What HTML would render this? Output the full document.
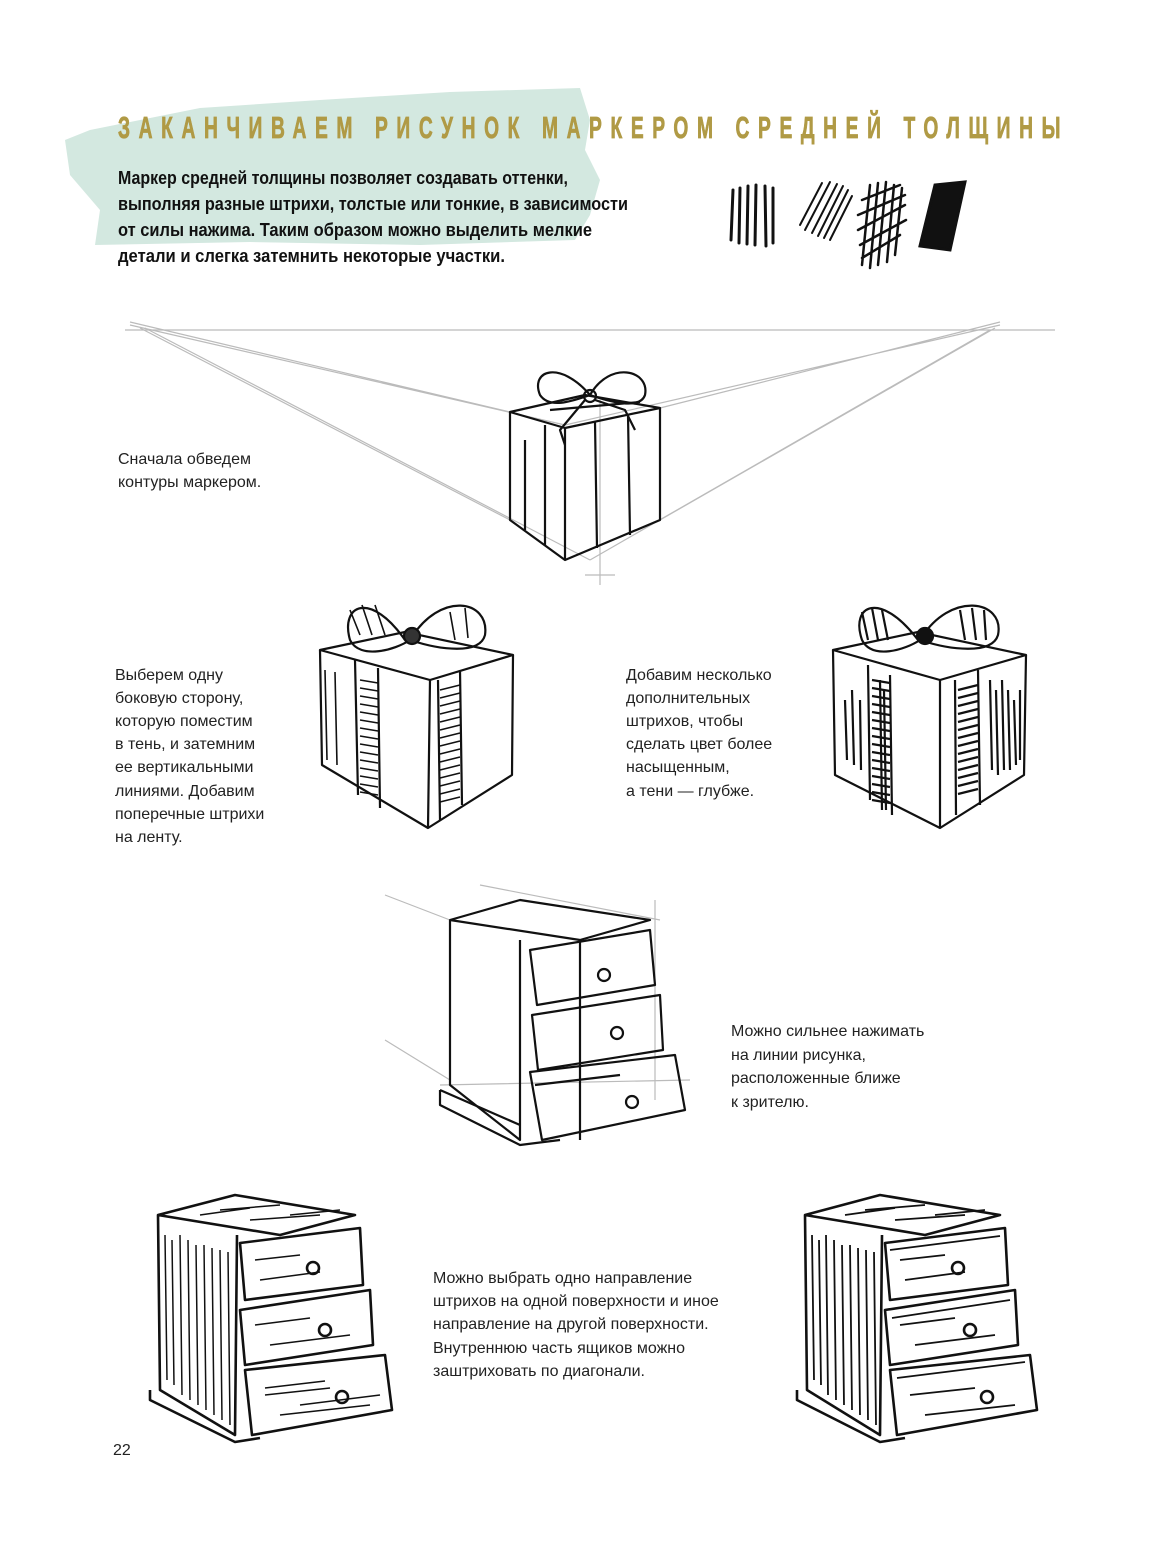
<!DOCTYPE html>
<html><head><meta charset="utf-8"><style>
html,body{margin:0;padding:0;background:#fff}
svg{display:block}
</style></head><body>
<svg width="1154" height="1550" viewBox="0 0 1154 1550" xmlns="http://www.w3.org/2000/svg" font-family="Liberation Sans, sans-serif">
<path d="M90 130 L200 108 L320 100 L450 92 L580 88 L590 120 L585 150 L600 180 L590 215 L575 240 L420 245 L250 242 L95 245 L100 210 L70 175 L65 140 Z" fill="#d3e8e0"/>
<text transform="translate(118,138) scale(0.62,1)" font-size="31" font-weight="bold" fill="#b09a45" stroke="#b09a45" stroke-width="0.8" textLength="1520" lengthAdjust="spacing">ЗАКАНЧИВАЕМ РИСУНОК МАРКЕРОМ СРЕДНЕЙ ТОЛЩИНЫ</text>
<g font-size="18" font-weight="bold" fill="#111">
<text x="118" y="184" textLength="450" lengthAdjust="spacingAndGlyphs">Маркер средней толщины позволяет создавать оттенки,</text>
<text x="118" y="210" textLength="510" lengthAdjust="spacingAndGlyphs">выполняя разные штрихи, толстые или тонкие, в зависимости</text>
<text x="118" y="236" textLength="474" lengthAdjust="spacingAndGlyphs">от силы нажима. Таким образом можно выделить мелкие</text>
<text x="118" y="262" textLength="387" lengthAdjust="spacingAndGlyphs">детали и слегка затемнить некоторые участки.</text>
</g>
<g stroke="#111" stroke-linecap="round">
<path d="M733 190 L731 240 M740 188 L739 243 M748 186 L747 244 M756 185 L755 245 M765 186 L766 246 M773 188 L773 243" stroke-width="3"/>
<path d="M800 225 L822 183 M805 230 L830 182 M812 233 L837 184 M818 236 L843 186 M824 238 L848 190 M830 240 L852 196" stroke-width="2"/>
<path d="M862 200 L900 185 M858 215 L905 195 M858 230 L905 205 M860 245 L906 220 M862 258 L900 235 M870 185 L862 265 M878 183 L870 268 M886 182 L878 265 M894 185 L887 262 M902 188 L895 255" stroke-width="2.5"/>
<path d="M935 185 L965 182 L950 250 L920 246 Z" fill="#111" stroke-width="3"/>
</g>
<g stroke="#bbb" stroke-width="1.2" fill="none">
<path d="M125 330 L1055 330"/>
<path d="M130 322 L510 412 M130 325 L565 425 M140 328 L510 520 M145 328 L590 560"/>
<path d="M1000 322 L660 408 M1000 325 L565 425 M995 328 L660 520 M990 330 L590 560"/>
<path d="M600 400 L600 585 M585 575 L615 575"/>
<path d="M385 895 L450 920 M480 885 L660 920 M655 900 L655 1100 M440 1085 L690 1080 M385 1040 L450 1080"/>
</g>
<g stroke="#111" stroke-width="2.2" fill="none" stroke-linejoin="round">
<path d="M510 412 L585 395 L660 408 L565 428 Z"/>
<path d="M510 412 L510 520 L565 560 L660 520 L660 408 M565 428 L565 560"/>
<path d="M525 440 L525 530 M545 425 L545 545 M595 422 L597 548 M628 415 L630 535 M550 410 L640 402"/>
<path d="M590 395 C560 360 530 370 540 395 C550 410 575 400 590 395 C610 360 650 370 645 395 C640 410 610 402 590 395 Z"/>
<circle cx="590" cy="396" r="6"/>
<path d="M585 400 L560 430 L565 445 M595 400 L625 410 L635 430"/>
</g>
<g stroke="#111" stroke-width="2.2" fill="none" stroke-linejoin="round">
<path d="M320 650 L405 632 L513 655 L430 680 Z"/>
<path d="M320 650 L322 765 L428 828 L512 775 L513 655 M430 680 L428 828"/>
<path d="M405 640 C370 590 340 605 350 640 C360 660 395 650 410 640 C440 590 490 600 485 635 C480 655 440 650 410 640"/>
<circle cx="412" cy="636" r="8" fill="#333"/>
<path d="M355 660 L358 795 M378 668 L380 808 M438 680 L440 820 M460 670 L462 805"/>
</g>
<g stroke="#111" stroke-width="1.6">
<path d="M360 680 L378 683 M360 688 L378 691 M360 696 L378 699 M360 704 L378 707 M360 712 L378 715 M360 720 L378 723 M360 728 L378 731 M360 736 L378 739 M360 744 L378 747 M360 752 L378 755 M360 760 L378 763 M360 768 L378 771 M360 776 L378 779 M360 784 L378 787 M360 792 L378 795"/>
<path d="M440 690 L460 685 M440 698 L460 693 M440 706 L460 701 M440 714 L460 709 M440 722 L460 717 M440 730 L460 725 M440 738 L460 733 M440 746 L460 741 M440 754 L460 749 M440 762 L460 757 M440 770 L460 765 M440 778 L460 773 M440 786 L460 781 M440 794 L460 789 M440 802 L460 797"/>
<path d="M350 610 L360 635 M362 605 L372 635 M375 605 L385 635 M450 612 L455 640 M465 608 L468 638 M325 670 L327 760 M335 672 L337 765"/>
</g>
<g stroke="#111" stroke-width="2.2" fill="none" stroke-linejoin="round">
<path d="M833 650 L918 632 L1026 655 L940 680 Z"/>
<path d="M833 650 L835 775 L940 828 L1024 775 L1026 655 M940 680 L940 828"/>
<path d="M918 640 C880 590 850 605 862 640 C872 660 905 650 920 640 C950 590 1005 600 998 635 C992 655 950 650 920 640"/>
<circle cx="925" cy="636" r="8" fill="#111"/>
</g>
<g stroke="#111" stroke-width="2.2">
<path d="M868 665 L870 800 M890 675 L892 815 M955 680 L956 815 M978 670 L980 805"/>
<path d="M872 680 L890 683 M872 688 L890 691 M872 696 L890 699 M872 704 L890 707 M872 712 L890 715 M872 720 L890 723 M872 728 L890 731 M872 736 L890 739 M872 744 L890 747 M872 752 L890 755 M872 760 L890 763 M872 768 L890 771 M872 776 L890 779 M872 784 L890 787 M872 792 L890 795 M872 800 L890 803"/>
<path d="M958 690 L978 685 M958 698 L978 693 M958 706 L978 701 M958 714 L978 709 M958 722 L978 717 M958 730 L978 725 M958 738 L978 733 M958 746 L978 741 M958 754 L978 749 M958 762 L978 757 M958 770 L978 765 M958 778 L978 773 M958 786 L978 781 M958 794 L978 789"/>
<path d="M990 680 L992 770 M996 690 L998 775 M1002 680 L1004 770 M1008 690 L1010 770 M1014 700 L1016 765 M1020 690 L1020 760 M845 700 L847 760 M852 690 L854 765 M860 700 L861 770 M880 680 L882 810 M884 690 L886 810"/>
<path d="M862 612 L868 640 M872 608 L878 640 M882 610 L888 640 M960 610 L965 640 M972 608 L976 640 M984 610 L986 640"/>
</g>
<g stroke="#111" stroke-width="2.2" fill="none" stroke-linejoin="round">
<path d="M450 920 L520 900 L650 920 L580 940 Z M450 920 L450 1085 L520 1140 L520 940 M580 940 L580 1140"/>
<path d="M440 1090 L440 1105 L520 1145 L560 1140 M440 1090 L520 1125"/>
<path d="M530 950 L650 930 L655 985 L537 1005 Z"/>
<path d="M532 1015 L660 995 L663 1050 L538 1070 Z"/>
<path d="M530 1072 L675 1055 L685 1110 L542 1140 Z M535 1085 L620 1075"/>
<circle cx="604" cy="975" r="6"/><circle cx="617" cy="1033" r="6"/><circle cx="632" cy="1102" r="6"/>
</g>
<g stroke="#111" stroke-width="2.6" fill="none" stroke-linejoin="round">
<path d="M158 1215 L235 1195 L355 1215 L280 1235 Z M158 1215 L160 1390 L235 1435 L237 1235"/>
<path d="M150 1390 L150 1400 L235 1442 L260 1438"/>
<path d="M240 1243 L360 1228 L363 1285 L245 1300 Z"/>
<path d="M240 1310 L370 1290 L373 1345 L245 1365 Z"/>
<path d="M245 1370 L385 1355 L392 1410 L252 1435 Z"/>
<circle cx="313" cy="1268" r="6"/><circle cx="325" cy="1330" r="6"/><circle cx="342" cy="1397" r="6"/>
</g>
<g stroke="#111" stroke-width="1.5">
<path d="M165 1235 L167 1380 M172 1240 L174 1385 M180 1235 L182 1395 M188 1240 L190 1400 M196 1245 L198 1405 M204 1245 L206 1410 M212 1248 L214 1415 M220 1250 L222 1420 M228 1252 L230 1425 M255 1260 L300 1255 M260 1280 L320 1272 M255 1325 L310 1318 M270 1345 L350 1335 M265 1395 L330 1388 M280 1415 L370 1405 M220 1210 L280 1205 M250 1220 L320 1215 M200 1215 L250 1208 M290 1215 L340 1210 M265 1388 L325 1381 M300 1405 L380 1395"/>
</g>
<g stroke="#111" stroke-width="2.6" fill="none" stroke-linejoin="round">
<path d="M805 1215 L880 1195 L1000 1215 L925 1235 Z M805 1215 L807 1390 L880 1435 L882 1235"/>
<path d="M797 1390 L797 1400 L880 1442 L905 1438"/>
<path d="M885 1243 L1005 1228 L1008 1285 L890 1300 Z"/>
<path d="M885 1310 L1015 1290 L1018 1345 L890 1365 Z"/>
<path d="M890 1370 L1030 1355 L1037 1410 L897 1435 Z"/>
<circle cx="958" cy="1268" r="6"/><circle cx="970" cy="1330" r="6"/><circle cx="987" cy="1397" r="6"/>
</g>
<g stroke="#111" stroke-width="1.8">
<path d="M812 1235 L814 1380 M819 1240 L821 1385 M826 1235 L828 1395 M834 1240 L836 1400 M842 1245 L844 1405 M850 1245 L852 1410 M858 1248 L860 1415 M866 1250 L868 1420 M874 1252 L876 1425 M900 1260 L945 1255 M905 1280 L965 1272 M900 1325 L955 1318 M915 1345 L995 1335 M910 1395 L975 1388 M925 1415 L1015 1405 M865 1210 L925 1205 M895 1220 L965 1215 M845 1215 L895 1208 M935 1215 L985 1210 M890 1250 L1000 1236 M892 1318 L1010 1300 M897 1378 L1025 1362"/>
</g>
<g font-size="16" fill="#222">
<text x="118" y="464">Сначала обведем</text>
<text x="118" y="487">контуры маркером.</text>
<text x="115" y="680">Выберем одну</text>
<text x="115" y="703">боковую сторону,</text>
<text x="115" y="726">которую поместим</text>
<text x="115" y="749">в тень, и затемним</text>
<text x="115" y="772">ее вертикальными</text>
<text x="115" y="796">линиями. Добавим</text>
<text x="115" y="819">поперечные штрихи</text>
<text x="115" y="842">на ленту.</text>
<text x="626" y="680">Добавим несколько</text>
<text x="626" y="703">дополнительных</text>
<text x="626" y="726">штрихов, чтобы</text>
<text x="626" y="749">сделать цвет более</text>
<text x="626" y="772">насыщенным,</text>
<text x="626" y="796">а тени — глубже.</text>
<text x="731" y="1036">Можно сильнее нажимать</text>
<text x="731" y="1060">на линии рисунка,</text>
<text x="731" y="1083">расположенные ближе</text>
<text x="731" y="1107">к зрителю.</text>
<text x="433" y="1283">Можно выбрать одно направление</text>
<text x="433" y="1306">штрихов на одной поверхности и иное</text>
<text x="433" y="1329">направление на другой поверхности.</text>
<text x="433" y="1353">Внутреннюю часть ящиков можно</text>
<text x="433" y="1376">заштриховать по диагонали.</text>
<text x="113" y="1455">22</text>
</g>
</svg>
</body></html>
